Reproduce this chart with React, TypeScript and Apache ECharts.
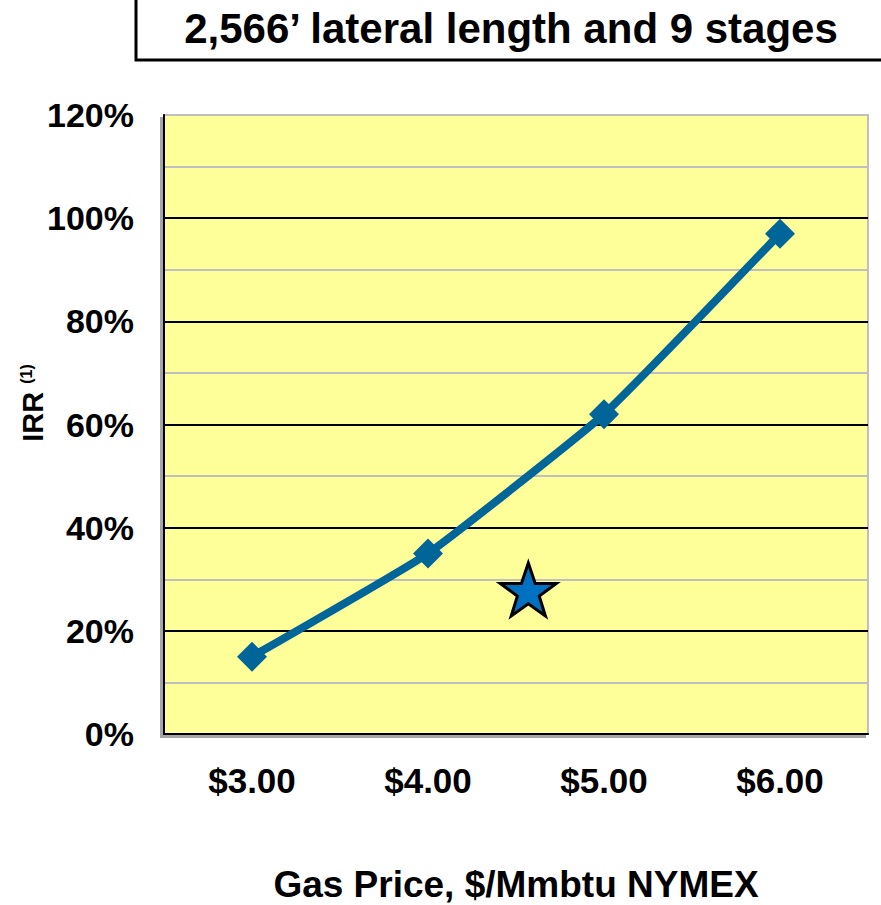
import React, { useEffect, useRef } from "react";
import * as echarts from "echarts";

const categories = ["$3.00", "$4.00", "$5.00", "$6.00"];
const irrValues = [0.15, 0.35, 0.62, 0.97];
const starPoint = [4.57, 0.28];
const titleText = "2,566\u2019 lateral length and 9 stages";
const xAxisTitle = "Gas Price, $/Mmbtu NYMEX";

const STAR =
  "path://M50,0 L61.8,35.1 L98.1,35.1 L68.8,56.7 L79.4,91 L50,70 L20.6,91 L31.2,56.7 L1.9,35.1 L38.2,35.1 Z";

export default function App() {
  const ref = useRef<HTMLDivElement>(null);
  useEffect(() => {
    if (!ref.current) return;
    const chart = echarts.init(ref.current, null, { renderer: "svg" });
    const font = "'Liberation Sans', Arial, sans-serif";
    chart.setOption({
      animation: false,
      backgroundColor: "#ffffff",
      textStyle: { fontFamily: font },
      grid: {
        left: 164,
        right: 13,
        top: 115,
        bottom: 171,
        outerBoundsMode: "none",
        containLabel: false,
        show: true,
        backgroundColor: "#FFFF99",
        borderColor: "#BFBFBF",
        borderWidth: 2,
        shadowColor: "#A6A6A6",
        shadowOffsetX: -3,
        shadowOffsetY: 3,
        shadowBlur: 0,
      },
      graphic: [
        {
          type: "rect",
          shape: { x: 136, y: -10, width: 800, height: 70 },
          style: { fill: "#ffffff", stroke: "#000000", lineWidth: 3 },
        },
        {
          type: "text",
          x: 511,
          y: 28,
          style: {
            text: titleText,
            font: `bold 42px ${font}`,
            fill: "#000",
            align: "center",
            verticalAlign: "middle",
          },
        },
        {
          type: "text",
          x: 33,
          y: 403,
          rotation: Math.PI / 2,
          style: {
            text: "{a|IRR }{b|(1)}",
            align: "center",
            verticalAlign: "middle",
            rich: {
              a: { font: `bold 29px ${font}`, fill: "#000", verticalAlign: "bottom" },
              b: { font: `bold 16px ${font}`, fill: "#000", verticalAlign: "top", padding: [0, 0, 12, 0] },
            },
          },
        },
      ],
      xAxis: [
        {
          type: "category",
          data: categories,
          boundaryGap: true,
          axisLine: { show: true, lineStyle: { color: "#000", width: 2 } },
          axisTick: { show: false },
          axisLabel: {
            color: "#000",
            fontSize: 35,
            fontWeight: "bold",
            fontFamily: font,
            margin: 29,
          },
          splitLine: { show: false },
          name: xAxisTitle,
          nameLocation: "middle",
          nameGap: 132,
          nameTextStyle: { color: "#000", fontSize: 37, fontWeight: "bold", fontFamily: font },
        },
        {
          type: "value",
          min: 2.5,
          max: 6.5,
          show: false,
        },
      ],
      yAxis: {
        type: "value",
        min: 0,
        max: 1.2,
        interval: 0.2,
        axisLine: { show: true, lineStyle: { color: "#000", width: 2 } },
        axisTick: { show: false },
        axisLabel: {
          color: "#000",
          fontSize: 34,
          fontWeight: "bold",
          fontFamily: font,
          margin: 30,
          formatter: (v: number) => `${Math.round(v * 100)}%`,
        },
        splitLine: {
          show: true,
          lineStyle: {
            color: ["#000", "#000", "#000", "#000", "#000", "#000", "#BFBFBF"],
            width: 2,
          },
        },
        minorTick: { show: false, splitNumber: 2 },
        minorSplitLine: { show: true, lineStyle: { color: "#BFBFBF", width: 2 } },
      },
      series: [
        {
          type: "line",
          data: irrValues,
          xAxisIndex: 0,
          smooth: 0.12,
          symbol: "diamond",
          symbolSize: 30,
          lineStyle: { color: "#006699", width: 8 },
          itemStyle: { color: "#006699", opacity: 1 },
          z: 3,
        },
        {
          type: "scatter",
          xAxisIndex: 1,
          data: [starPoint],
          symbol: STAR,
          symbolKeepAspect: true,
          symbolSize: 56,
          itemStyle: { color: "#0070C0", borderColor: "#000", borderWidth: 3, opacity: 1 },
          z: 4,
        },
      ],
    });
    return () => chart.dispose();
  }, []);
  return (
    <div
      ref={ref}
      style={{ position: "fixed", left: 0, top: 0, width: 881, height: 905 }}
    />
  );
}
